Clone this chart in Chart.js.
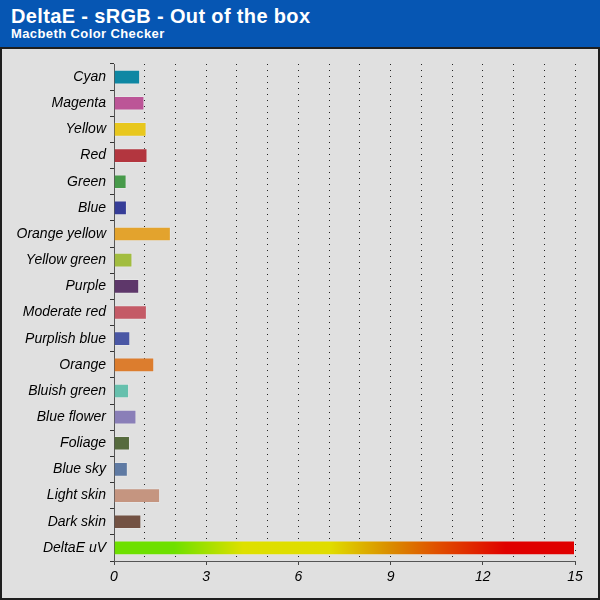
<!DOCTYPE html>
<html>
<head>
<meta charset="utf-8">
<script src="https://cdn.jsdelivr.net/npm/chart.js@4.4.1/dist/chart.umd.min.js"></script>
<style>
  html, body { margin: 0; padding: 0; background: #e0e0e0; }
  #wrap { position: relative; width: 600px; height: 600px; overflow: hidden; font-family: "Liberation Sans", Arial, sans-serif; }
  #header { position: absolute; left: 0; top: 0; width: 600px; height: 47px; background: #0656b3; color: #fff; }
  #title { position: absolute; left: 11px; top: 5px; font-size: 20px; line-height: 23px; letter-spacing: 0.35px; font-weight: bold; white-space: nowrap; }
  #subtitle { position: absolute; left: 11px; top: 26px; font-size: 13px; line-height: 15px; letter-spacing: 0.4px; font-weight: bold; white-space: nowrap; }
  #frame { position: absolute; left: 0; top: 47px; width: 596px; height: 549px; border: 2px solid #1e1e1e; background: #e0e0e0; }
  canvas { display: block; }
</style>
</head>
<body>
<div id="wrap">
  <div id="header">
    <div id="title">DeltaE - sRGB - Out of the box</div>
    <div id="subtitle">Macbeth Color Checker</div>
  </div>
  <div id="frame"><canvas id="chart" width="596" height="549"></canvas></div>
</div>
<script>
// 色票名（上から順）
const categories = ['Cyan', 'Magenta', 'Yellow', 'Red', 'Green', 'Blue', 'Orange yellow', 'Yellow green',
    'Purple', 'Moderate red', 'Purplish blue', 'Orange', 'Bluish green', 'Blue flower', 'Foliage',
    'Blue sky', 'Light skin', 'Dark skin', 'DeltaE uV'];
// DeltaE の値
const deltaValues = [0.85, 0.99, 1.06, 1.09, 0.41, 0.42, 1.85, 0.6, 0.82, 1.07, 0.53, 1.31, 0.49, 0.73, 0.52, 0.45, 1.5, 0.89, 15];
// 軸の目盛り
const axisMin = 0;
const axisMax = 15;
const labelStep = 3;

// バーの色（最後はグラデーション）
const barColors = ['#0e87a3', '#bc5597', '#e8c71d', '#b3363f', '#479a4a', '#363d98', '#e3a32d', '#a2bd3f',
    '#5e376a', '#c45a66', '#4a57a5', '#dc7d2e', '#66c0ad', '#8a7fb8', '#566b3e', '#5f7aa3', '#c59580', '#735243'];

function barFill(ctx) {
    if (ctx.dataIndex < barColors.length) return barColors[ctx.dataIndex];
    const area = ctx.chart.chartArea;
    if (!area) return '#e00000';
    const g = ctx.chart.ctx.createLinearGradient(area.left, 0, area.right, 0);
    g.addColorStop(0, '#6ee000');
    g.addColorStop(0.13, '#6ee000');
    g.addColorStop(0.28, '#dee000');
    g.addColorStop(0.47, '#e0dc00');
    g.addColorStop(0.6, '#da8c00');
    g.addColorStop(0.7, '#e05000');
    g.addColorStop(0.85, '#e00000');
    g.addColorStop(1, '#e00000');
    return g;
}

const font = { family: '"Liberation Sans", Arial, sans-serif', size: 14, style: 'italic' };

new Chart(document.getElementById('chart'), {
    type: 'bar',
    data: {
        labels: categories,
        datasets: [{
            data: deltaValues,
            backgroundColor: barFill,
            borderColor: 'rgba(255,255,255,0.2)',
            borderWidth: 1,
            borderSkipped: 'start',
            barPercentage: 0.56,
            categoryPercentage: 1
        }]
    },
    options: {
        indexAxis: 'y',
        responsive: false,
        animation: false,
        layout: { padding: { top: 15, right: 23, left: 0, bottom: 0 } },
        plugins: { legend: { display: false }, tooltip: { enabled: false } },
        scales: {
            x: {
                min: axisMin,
                max: axisMax,
                ticks: {
                    stepSize: 1,
                    color: '#000',
                    font: font,
                    padding: 4,
                    maxRotation: 0,
                    autoSkip: false,
                    callback: v => (v % labelStep === 0 ? String(v) : '')
                },
                grid: {
                    color: c => (c.tick && c.tick.value > 0 ? '#222' : 'rgba(0,0,0,0)'),
                    tickLength: 4,
                    tickColor: c => (c.tick && c.tick.value % labelStep === 0 ? '#444' : 'rgba(0,0,0,0)'),
                    tickBorderDash: []
                },
                // v4 では border.dash がグリッド線の点線になる
                border: { color: '#555', width: 1, dash: [1, 5] },
                afterFit: s => { s.height = 37; }
            },
            y: {
                ticks: { color: '#000', font: font, padding: 4, autoSkip: false },
                grid: { drawOnChartArea: false, tickLength: 4, tickColor: '#333', offset: true },
                border: { color: '#555', width: 1 },
                afterFit: s => { s.width = 112; }
            }
        }
    }
});
</script>
</body>
</html>
